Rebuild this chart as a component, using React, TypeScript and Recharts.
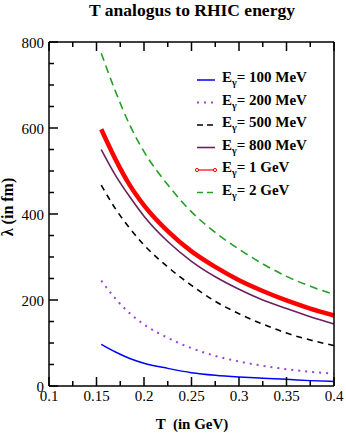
import React from "react";
import { LineChart, Line, XAxis, YAxis, Legend } from "recharts";

// values (lambda in fm vs T in GeV)
const tValues = [0.155, 0.17, 0.185, 0.2, 0.225, 0.25, 0.275, 0.3, 0.325, 0.35, 0.375, 0.4];
const lambda100MeV = [97, 79, 64, 53, 41, 31, 25, 21, 18, 15.5, 12.5, 10.5];
const lambda200MeV = [245, 203, 169, 143, 112, 88, 70, 57, 47, 39, 33, 29];
const lambda500MeV = [467, 412, 367, 328, 277, 234, 197, 168, 144, 123, 107, 94];
const lambda800MeV = [550, 490, 440, 395, 336, 290, 254, 225, 200, 180, 161, 144];
const lambda1GeV = [597, 527, 467, 420, 360, 313, 277, 246, 221, 199, 180, 164];
const lambda2GeV = [774, 685, 607, 545, 468, 405, 357, 318, 284, 255, 232, 213];

const energyLabels = ["100 MeV", "200 MeV", "500 MeV", "800 MeV", "1 GeV", "2 GeV"];

const xTicks = [0.1, 0.125, 0.15, 0.175, 0.2, 0.225, 0.25, 0.275, 0.3, 0.325, 0.35, 0.375, 0.4];
const xMajor = [0.1, 0.15, 0.2, 0.25, 0.3, 0.35, 0.4];
const yTicks = [0, 50, 100, 150, 200, 250, 300, 350, 400, 450, 500, 550, 600, 650, 700, 750, 800];
const yMajor = [0, 200, 400, 600, 800];

const txt = { fontFamily: "Liberation Serif" };

const series = [
  { key: "e100", values: lambda100MeV, color: "#0000ff", width: 1.5, dash: undefined },
  { key: "e200", values: lambda200MeV, color: "#9b40e0", width: 2, dash: "2 5" },
  { key: "e500", values: lambda500MeV, color: "#000000", width: 1.6, dash: "6 5" },
  { key: "e800", values: lambda800MeV, color: "#6e1f5c", width: 1.6, dash: undefined },
  { key: "e1000", values: lambda1GeV, color: "#ff0000", width: 4.5, dash: undefined },
  { key: "e2000", values: lambda2GeV, color: "#22a022", width: 1.6, dash: "8 5" },
];

const data = tValues.map((t, i) => {
  const row: any = { T: t };
  series.forEach((s) => (row[s.key] = s.values[i]));
  return row;
});

const XTick = (props: any) => {
  const { x, y, payload, top } = props;
  const major = xMajor.includes(payload.value);
  const len = major ? 9 : 5;
  return (
    <g>
      <line x1={x} x2={x} y1={y} y2={top ? y + len : y - len} stroke="#000" strokeWidth={1.5} />
      {!top && major && (
        <text x={x} y={y + 15} textAnchor="middle" fontSize={15} style={txt} fill="#000">
          {String(payload.value)}
        </text>
      )}
    </g>
  );
};

const YTick = (props: any) => {
  const { x, y, payload, right } = props;
  const major = yMajor.includes(payload.value);
  const len = major ? 9 : 5;
  return (
    <g>
      <line x1={x} x2={right ? x - len : x + len} y1={y} y2={y} stroke="#000" strokeWidth={1.5} />
      {!right && major && (
        <text x={x - 5} y={y + 6} textAnchor="end" fontSize={15} style={txt} fill="#000">
          {String(payload.value)}
        </text>
      )}
    </g>
  );
};

const renderLegend = () => (
  <svg width={140} height={140}>
    {series.map((s, i) => {
      const cy = 12 + i * 22.5;
      return (
        <g key={s.key}>
          <line
            x1={2}
            x2={20}
            y1={cy}
            y2={cy}
            stroke={s.color}
            strokeWidth={s.key === "e1000" ? 1.2 : s.width}
            strokeDasharray={s.key === "e500" || s.key === "e2000" ? "6 4" : s.dash}
          />
          {s.key === "e1000" && (
            <>
              <circle cx={2} cy={cy} r={1.6} fill="#fff" stroke={s.color} strokeWidth={1} />
              <circle cx={20} cy={cy} r={1.6} fill="#fff" stroke={s.color} strokeWidth={1} />
            </>
          )}
          <text x={27} y={cy + 2} fontSize={15} fontWeight="bold" style={txt} fill="#000">
            <tspan>E</tspan>
            <tspan dy={4} fontSize={10}>γ</tspan>
            <tspan dy={-4}>{"= " + energyLabels[i]}</tspan>
          </text>
        </g>
      );
    })}
  </svg>
);

export default function App() {
  const axisLine = { stroke: "#000", strokeWidth: 1.5 };
  return (
    <div style={{ position: "absolute", left: 0, top: 0, width: 346, height: 434, background: "#fff" }}>
      <LineChart width={346} height={434} data={data} margin={{ top: 41, right: 11, bottom: 47, left: 48 }}>
        <XAxis
          xAxisId="b"
          dataKey="T"
          type="number"
          domain={[0.1, 0.4]}
          ticks={xTicks}
          interval={0}
          height={1}
          tickSize={0}
          tickMargin={0}
          axisLine={axisLine}
          tick={<XTick />}
        />
        <XAxis
          xAxisId="t"
          orientation="top"
          dataKey="T"
          type="number"
          domain={[0.1, 0.4]}
          ticks={xTicks}
          interval={0}
          height={1}
          tickSize={0}
          tickMargin={0}
          axisLine={axisLine}
          tick={<XTick top />}
        />
        <YAxis
          yAxisId="l"
          type="number"
          domain={[0, 800]}
          ticks={yTicks}
          interval={0}
          width={1}
          tickSize={0}
          tickMargin={0}
          axisLine={axisLine}
          tick={<YTick />}
        />
        <YAxis
          yAxisId="r"
          orientation="right"
          type="number"
          domain={[0, 800]}
          ticks={yTicks}
          interval={0}
          width={1}
          tickSize={0}
          tickMargin={0}
          axisLine={axisLine}
          tick={<YTick right />}
        />
        <Legend
          layout="vertical"
          align="center"
          verticalAlign="middle"
          content={renderLegend}
          wrapperStyle={{ left: 195, top: 68, width: 140, height: 140 }}
        />
        {series.map((s) => (
          <Line
            key={s.key}
            xAxisId="b"
            yAxisId="l"
            type="monotone"
            dataKey={s.key}
            stroke={s.color}
            strokeWidth={s.width}
            strokeDasharray={s.dash}
            dot={false}
            activeDot={false}
            isAnimationActive={false}
          />
        ))}
      </LineChart>
      <svg width={346} height={434} style={{ position: "absolute", left: 0, top: 0, pointerEvents: "none" }}>
        <text x={192} y={15.6} textAnchor="middle" fontSize={17.5} fontWeight="bold" style={txt}>
          T analogus to RHIC energy
        </text>
        <text x={192} y={429} textAnchor="middle" fontSize={15} fontWeight="bold" style={txt} xmlSpace="preserve">
          T  (in GeV)
        </text>
        <text
          x={0}
          y={0}
          transform="translate(13 207) rotate(-90)"
          textAnchor="middle"
          fontSize={16}
          fontWeight="bold"
          style={txt}
        >
          λ (in fm)
        </text>
      </svg>
    </div>
  );
}
